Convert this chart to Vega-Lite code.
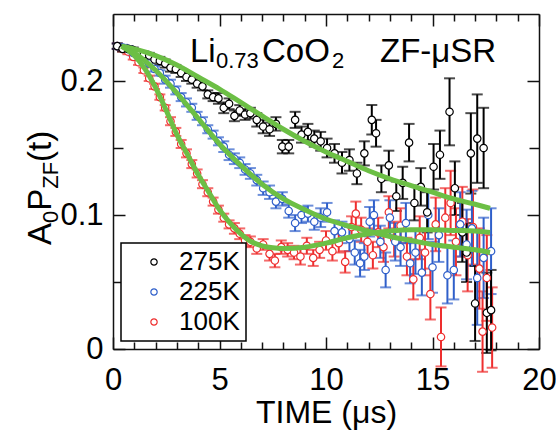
{
"$schema": "https://vega.github.io/schema/vega-lite/v6.json",
"width": 426, "height": 335,
"autosize": {"type": "none"},
"padding": {"left": 113, "top": 14, "right": 17, "bottom": 83},
"config": {
  "view": {"stroke": null},
  "font": "Liberation Sans",
  "axis": {"domainColor": "#111", "tickColor": "#111", "domainWidth": 1.5, "tickWidth": 1.5, "grid": false, "labelFont": "Liberation Sans", "titleFont": "Liberation Sans", "labelColor": "#000", "titleColor": "#000", "titleFontWeight": "normal"},
  "legend": {"title": null, "orient": "bottom-left", "offset": 8, "padding": 6, "strokeColor": "#000", "strokeWidth": 1.5, "fillColor": "white", "labelFontSize": 26, "labelFont": "Liberation Sans", "labelColor": "#000", "symbolSize": 40, "symbolStrokeWidth": 1.2, "symbolOffset": 14, "labelOffset": 12, "rowPadding": 4, "symbolType": "circle", "symbolFillColor": "white"}
},
"datasets": {
  "pts": [
    {"s":"100K","t":0.2,"y":0.226,"e":0.002},{"s":"100K","t":0.45,"y":0.224,"e":0.002},{"s":"100K","t":0.7,"y":0.222,"e":0.002},{"s":"100K","t":0.95,"y":0.218,"e":0.002},{"s":"100K","t":1.2,"y":0.214,"e":0.002},{"s":"100K","t":1.45,"y":0.208,"e":0.002},{"s":"100K","t":1.7,"y":0.202,"e":0.002},{"s":"100K","t":1.95,"y":0.196,"e":0.002},{"s":"100K","t":2.2,"y":0.188,"e":0.002},{"s":"100K","t":2.45,"y":0.18,"e":0.002},{"s":"100K","t":2.7,"y":0.17,"e":0.003},{"s":"100K","t":2.95,"y":0.162,"e":0.003},{"s":"100K","t":3.2,"y":0.153,"e":0.003},{"s":"100K","t":3.45,"y":0.146,"e":0.003},{"s":"100K","t":3.7,"y":0.138,"e":0.003},{"s":"100K","t":3.95,"y":0.131,"e":0.003},{"s":"100K","t":4.2,"y":0.123,"e":0.003},{"s":"100K","t":4.45,"y":0.117,"e":0.003},{"s":"100K","t":4.7,"y":0.11,"e":0.003},{"s":"100K","t":4.95,"y":0.104,"e":0.003},{"s":"100K","t":5.2,"y":0.098,"e":0.003},{"s":"100K","t":5.45,"y":0.093,"e":0.003},{"s":"100K","t":5.7,"y":0.09,"e":0.004},{"s":"100K","t":5.95,"y":0.086,"e":0.004},{"s":"100K","t":6.2,"y":0.081,"e":0.004},{"s":"100K","t":6.45,"y":0.08,"e":0.004},{"s":"100K","t":6.75,"y":0.075,"e":0.004},{"s":"100K","t":7.05,"y":0.078,"e":0.004},{"s":"100K","t":7.35,"y":0.071,"e":0.005},{"s":"100K","t":7.6,"y":0.066,"e":0.005},{"s":"100K","t":7.9,"y":0.076,"e":0.005},{"s":"100K","t":8.2,"y":0.074,"e":0.005},{"s":"100K","t":8.5,"y":0.072,"e":0.005},{"s":"100K","t":8.8,"y":0.069,"e":0.006},{"s":"100K","t":9.1,"y":0.077,"e":0.006},{"s":"100K","t":9.4,"y":0.068,"e":0.006},{"s":"100K","t":9.7,"y":0.074,"e":0.006},{"s":"100K","t":10.0,"y":0.081,"e":0.007},{"s":"100K","t":10.3,"y":0.073,"e":0.007},{"s":"100K","t":10.6,"y":0.079,"e":0.007},{"s":"100K","t":10.9,"y":0.065,"e":0.008},{"s":"100K","t":11.2,"y":0.091,"e":0.008},{"s":"100K","t":11.4,"y":0.101,"e":0.009},{"s":"100K","t":11.65,"y":0.089,"e":0.009},{"s":"100K","t":11.95,"y":0.08,"e":0.01},{"s":"100K","t":12.2,"y":0.07,"e":0.01},{"s":"100K","t":12.45,"y":0.087,"e":0.011},{"s":"100K","t":12.7,"y":0.076,"e":0.011},{"s":"100K","t":12.95,"y":0.102,"e":0.012},{"s":"100K","t":13.2,"y":0.082,"e":0.013},{"s":"100K","t":13.5,"y":0.092,"e":0.013},{"s":"100K","t":13.8,"y":0.069,"e":0.014},{"s":"100K","t":14.1,"y":0.052,"e":0.015},{"s":"100K","t":14.4,"y":0.083,"e":0.016},{"s":"100K","t":14.65,"y":0.072,"e":0.017},{"s":"100K","t":14.9,"y":0.041,"e":0.019},{"s":"100K","t":15.15,"y":0.093,"e":0.02},{"s":"100K","t":15.4,"y":0.009,"e":0.022},{"s":"100K","t":15.6,"y":0.098,"e":0.022},{"s":"100K","t":15.85,"y":0.109,"e":0.024},{"s":"100K","t":16.1,"y":0.08,"e":0.025},{"s":"100K","t":16.4,"y":0.095,"e":0.026},{"s":"100K","t":16.65,"y":0.07,"e":0.027},{"s":"100K","t":16.9,"y":0.091,"e":0.028},{"s":"100K","t":17.2,"y":0.06,"e":0.03},{"s":"100K","t":17.35,"y":0.013,"e":0.03},{"s":"100K","t":17.55,"y":0.053,"e":0.032},{"s":"100K","t":17.8,"y":0.016,"e":0.03},
    {"s":"225K","t":0.2,"y":0.226,"e":0.002},{"s":"225K","t":0.45,"y":0.225,"e":0.002},{"s":"225K","t":0.7,"y":0.224,"e":0.002},{"s":"225K","t":0.95,"y":0.221,"e":0.002},{"s":"225K","t":1.2,"y":0.219,"e":0.002},{"s":"225K","t":1.45,"y":0.216,"e":0.002},{"s":"225K","t":1.7,"y":0.213,"e":0.002},{"s":"225K","t":1.95,"y":0.209,"e":0.002},{"s":"225K","t":2.2,"y":0.206,"e":0.002},{"s":"225K","t":2.45,"y":0.201,"e":0.003},{"s":"225K","t":2.7,"y":0.198,"e":0.003},{"s":"225K","t":2.95,"y":0.193,"e":0.003},{"s":"225K","t":3.2,"y":0.188,"e":0.003},{"s":"225K","t":3.45,"y":0.184,"e":0.003},{"s":"225K","t":3.7,"y":0.18,"e":0.003},{"s":"225K","t":3.95,"y":0.174,"e":0.003},{"s":"225K","t":4.2,"y":0.17,"e":0.003},{"s":"225K","t":4.45,"y":0.164,"e":0.003},{"s":"225K","t":4.7,"y":0.16,"e":0.003},{"s":"225K","t":4.95,"y":0.155,"e":0.003},{"s":"225K","t":5.2,"y":0.151,"e":0.004},{"s":"225K","t":5.45,"y":0.145,"e":0.004},{"s":"225K","t":5.7,"y":0.142,"e":0.004},{"s":"225K","t":5.95,"y":0.139,"e":0.004},{"s":"225K","t":6.2,"y":0.134,"e":0.004},{"s":"225K","t":6.45,"y":0.131,"e":0.004},{"s":"225K","t":6.75,"y":0.126,"e":0.004},{"s":"225K","t":7.05,"y":0.12,"e":0.005},{"s":"225K","t":7.35,"y":0.117,"e":0.005},{"s":"225K","t":7.65,"y":0.11,"e":0.005},{"s":"225K","t":7.95,"y":0.112,"e":0.005},{"s":"225K","t":8.25,"y":0.103,"e":0.005},{"s":"225K","t":8.55,"y":0.094,"e":0.006},{"s":"225K","t":8.85,"y":0.1,"e":0.006},{"s":"225K","t":9.15,"y":0.101,"e":0.006},{"s":"225K","t":9.45,"y":0.095,"e":0.006},{"s":"225K","t":9.75,"y":0.098,"e":0.007},{"s":"225K","t":10.05,"y":0.102,"e":0.007},{"s":"225K","t":10.4,"y":0.088,"e":0.008},{"s":"225K","t":10.75,"y":0.087,"e":0.008},{"s":"225K","t":11.1,"y":0.082,"e":0.009},{"s":"225K","t":11.35,"y":0.072,"e":0.009},{"s":"225K","t":11.6,"y":0.064,"e":0.01},{"s":"225K","t":11.8,"y":0.069,"e":0.01},{"s":"225K","t":12.05,"y":0.095,"e":0.011},{"s":"225K","t":12.25,"y":0.1,"e":0.011},{"s":"225K","t":12.55,"y":0.08,"e":0.012},{"s":"225K","t":12.8,"y":0.059,"e":0.013},{"s":"225K","t":13.0,"y":0.098,"e":0.013},{"s":"225K","t":13.25,"y":0.08,"e":0.014},{"s":"225K","t":13.5,"y":0.076,"e":0.014},{"s":"225K","t":13.75,"y":0.094,"e":0.015},{"s":"225K","t":13.95,"y":0.064,"e":0.015},{"s":"225K","t":14.2,"y":0.072,"e":0.016},{"s":"225K","t":14.5,"y":0.057,"e":0.017},{"s":"225K","t":14.8,"y":0.1,"e":0.018},{"s":"225K","t":15.0,"y":0.061,"e":0.019},{"s":"225K","t":15.3,"y":0.085,"e":0.02},{"s":"225K","t":15.7,"y":0.055,"e":0.021},{"s":"225K","t":16.0,"y":0.059,"e":0.022},{"s":"225K","t":16.3,"y":0.093,"e":0.024},{"s":"225K","t":16.6,"y":0.078,"e":0.026},{"s":"225K","t":16.85,"y":0.09,"e":0.028},{"s":"225K","t":17.1,"y":0.053,"e":0.035},{"s":"225K","t":17.4,"y":0.068,"e":0.03},{"s":"225K","t":17.75,"y":0.073,"e":0.032},
    {"s":"275K","t":0.2,"y":0.226,"e":0.002},{"s":"275K","t":0.45,"y":0.224,"e":0.002},{"s":"275K","t":0.7,"y":0.224,"e":0.002},{"s":"275K","t":0.95,"y":0.223,"e":0.002},{"s":"275K","t":1.2,"y":0.221,"e":0.002},{"s":"275K","t":1.45,"y":0.22,"e":0.002},{"s":"275K","t":1.7,"y":0.219,"e":0.002},{"s":"275K","t":1.95,"y":0.216,"e":0.002},{"s":"275K","t":2.2,"y":0.215,"e":0.003},{"s":"275K","t":2.45,"y":0.213,"e":0.003},{"s":"275K","t":2.7,"y":0.21,"e":0.003},{"s":"275K","t":2.95,"y":0.209,"e":0.003},{"s":"275K","t":3.2,"y":0.206,"e":0.003},{"s":"275K","t":3.45,"y":0.203,"e":0.003},{"s":"275K","t":3.7,"y":0.201,"e":0.003},{"s":"275K","t":3.95,"y":0.198,"e":0.003},{"s":"275K","t":4.2,"y":0.196,"e":0.003},{"s":"275K","t":4.45,"y":0.19,"e":0.003},{"s":"275K","t":4.7,"y":0.188,"e":0.003},{"s":"275K","t":4.95,"y":0.187,"e":0.004},{"s":"275K","t":5.2,"y":0.18,"e":0.004},{"s":"275K","t":5.45,"y":0.183,"e":0.004},{"s":"275K","t":5.7,"y":0.174,"e":0.004},{"s":"275K","t":5.95,"y":0.178,"e":0.004},{"s":"275K","t":6.2,"y":0.175,"e":0.004},{"s":"275K","t":6.45,"y":0.176,"e":0.004},{"s":"275K","t":6.75,"y":0.171,"e":0.005},{"s":"275K","t":7.05,"y":0.166,"e":0.005},{"s":"275K","t":7.35,"y":0.164,"e":0.005},{"s":"275K","t":7.65,"y":0.168,"e":0.005},{"s":"275K","t":7.95,"y":0.151,"e":0.005},{"s":"275K","t":8.25,"y":0.151,"e":0.005},{"s":"275K","t":8.55,"y":0.171,"e":0.006},{"s":"275K","t":8.85,"y":0.16,"e":0.006},{"s":"275K","t":9.15,"y":0.162,"e":0.006},{"s":"275K","t":9.45,"y":0.157,"e":0.006},{"s":"275K","t":9.75,"y":0.155,"e":0.007},{"s":"275K","t":10.05,"y":0.15,"e":0.007},{"s":"275K","t":10.4,"y":0.146,"e":0.007},{"s":"275K","t":10.75,"y":0.139,"e":0.008},{"s":"275K","t":11.1,"y":0.141,"e":0.008},{"s":"275K","t":11.45,"y":0.131,"e":0.008},{"s":"275K","t":11.8,"y":0.146,"e":0.009},{"s":"275K","t":12.15,"y":0.171,"e":0.011},{"s":"275K","t":12.35,"y":0.161,"e":0.01},{"s":"275K","t":12.6,"y":0.127,"e":0.01},{"s":"275K","t":12.95,"y":0.137,"e":0.011},{"s":"275K","t":13.3,"y":0.114,"e":0.011},{"s":"275K","t":13.6,"y":0.124,"e":0.012},{"s":"275K","t":13.9,"y":0.154,"e":0.014},{"s":"275K","t":14.15,"y":0.109,"e":0.013},{"s":"275K","t":14.45,"y":0.121,"e":0.014},{"s":"275K","t":14.75,"y":0.102,"e":0.015},{"s":"275K","t":15.05,"y":0.136,"e":0.017},{"s":"275K","t":15.35,"y":0.145,"e":0.018},{"s":"275K","t":15.8,"y":0.177,"e":0.025},{"s":"275K","t":16.05,"y":0.12,"e":0.02},{"s":"275K","t":16.4,"y":0.087,"e":0.022},{"s":"275K","t":16.6,"y":0.072,"e":0.022},{"s":"275K","t":16.8,"y":0.146,"e":0.03},{"s":"275K","t":17.0,"y":0.034,"e":0.028},{"s":"275K","t":17.1,"y":0.157,"e":0.033},{"s":"275K","t":17.4,"y":0.15,"e":0.03},{"s":"275K","t":17.55,"y":0.027,"e":0.03},{"s":"275K","t":17.75,"y":0.029,"e":0.03}
  ],
  "fit": [
    {"s":"275K","t":0.4,"y":0.226},{"s":"275K","t":1,"y":0.224},{"s":"275K","t":2,"y":0.219},{"s":"275K","t":3,"y":0.212},{"s":"275K","t":4,"y":0.203},{"s":"275K","t":5,"y":0.194},{"s":"275K","t":6,"y":0.184},{"s":"275K","t":7,"y":0.174},{"s":"275K","t":8,"y":0.164},{"s":"275K","t":9,"y":0.155},{"s":"275K","t":10,"y":0.147},{"s":"275K","t":11,"y":0.14},{"s":"275K","t":12,"y":0.133},{"s":"275K","t":13,"y":0.127},{"s":"275K","t":14,"y":0.122},{"s":"275K","t":15,"y":0.117},{"s":"275K","t":16,"y":0.112},{"s":"275K","t":17,"y":0.108},{"s":"275K","t":17.7,"y":0.105},
    {"s":"225K","t":0.4,"y":0.226},{"s":"225K","t":1,"y":0.221},{"s":"225K","t":2,"y":0.208},{"s":"225K","t":3,"y":0.191},{"s":"225K","t":4,"y":0.172},{"s":"225K","t":5,"y":0.153},{"s":"225K","t":6,"y":0.137},{"s":"225K","t":7,"y":0.123},{"s":"225K","t":8,"y":0.112},{"s":"225K","t":9,"y":0.104},{"s":"225K","t":10,"y":0.097},{"s":"225K","t":11,"y":0.092},{"s":"225K","t":12,"y":0.088},{"s":"225K","t":13,"y":0.084},{"s":"225K","t":14,"y":0.081},{"s":"225K","t":15,"y":0.078},{"s":"225K","t":16,"y":0.076},{"s":"225K","t":17,"y":0.074},{"s":"225K","t":17.7,"y":0.072},
    {"s":"100K","t":0.4,"y":0.226},{"s":"100K","t":1,"y":0.219},{"s":"100K","t":1.5,"y":0.209},{"s":"100K","t":2,"y":0.195},{"s":"100K","t":2.5,"y":0.178},{"s":"100K","t":3,"y":0.16},{"s":"100K","t":3.5,"y":0.145},{"s":"100K","t":4,"y":0.13},{"s":"100K","t":4.5,"y":0.117},{"s":"100K","t":5,"y":0.104},{"s":"100K","t":5.5,"y":0.094},{"s":"100K","t":6,"y":0.086},{"s":"100K","t":6.5,"y":0.08},{"s":"100K","t":7,"y":0.077},{"s":"100K","t":7.5,"y":0.0755},{"s":"100K","t":8,"y":0.075},{"s":"100K","t":9,"y":0.076},{"s":"100K","t":10,"y":0.079},{"s":"100K","t":11,"y":0.083},{"s":"100K","t":12,"y":0.086},{"s":"100K","t":13,"y":0.088},{"s":"100K","t":14,"y":0.089},{"s":"100K","t":15,"y":0.089},{"s":"100K","t":16,"y":0.0885},{"s":"100K","t":17,"y":0.088},{"s":"100K","t":17.7,"y":0.087}
  ],
  "one": [{}]
},
"layer": [
  {"data": {"name": "fit"}, "mark": {"type": "point", "opacity": 0},
   "encoding": {
     "x": {"field": "t", "type": "quantitative", "scale": {"domain": [0, 20], "nice": false, "zero": false},
           "axis": {"orient": "bottom", "values": [0, 5, 10, 15, 20], "tickSize": -12, "labelPadding": 28, "labelFontSize": 31, "labelFlush": false, "labelOverlap": false, "title": "TIME (μs)", "titleFontSize": 32, "titlePadding": 2}},
     "y": {"field": "y", "type": "quantitative", "scale": {"domain": [0, 0.25], "nice": false, "zero": false},
           "axis": {"orient": "left", "values": [0, 0.1, 0.2], "format": "~g", "tickSize": -12, "labelPadding": 22, "labelFontSize": 31, "labelFlush": false, "labelOverlap": false, "title": null}}}},
  {"data": {"name": "fit"}, "mark": {"type": "point", "opacity": 0},
   "encoding": {
     "x": {"field": "t", "type": "quantitative", "axis": {"orient": "bottom", "values": [1,2,3,4,6,7,8,9,11,12,13,14,16,17,18,19], "tickSize": -7, "labels": false, "domain": false, "title": null}},
     "y": {"field": "y", "type": "quantitative", "axis": {"orient": "left", "values": [0.05, 0.15], "tickSize": -10, "labels": false, "domain": false, "title": null}}}},
  {"data": {"name": "fit"}, "mark": {"type": "point", "opacity": 0},
   "encoding": {
     "x": {"field": "t", "type": "quantitative", "axis": {"orient": "top", "values": [0, 5, 10, 15, 20], "tickSize": -12, "labels": false, "title": null}},
     "y": {"field": "y", "type": "quantitative", "axis": {"orient": "right", "values": [0, 0.1, 0.2], "tickSize": -12, "labels": false, "title": null}}}},
  {"data": {"name": "fit"}, "mark": {"type": "point", "opacity": 0},
   "encoding": {
     "x": {"field": "t", "type": "quantitative", "axis": {"orient": "top", "values": [1,2,3,4,6,7,8,9,11,12,13,14,16,17,18,19], "tickSize": -7, "labels": false, "domain": false, "title": null}},
     "y": {"field": "y", "type": "quantitative", "axis": {"orient": "right", "values": [0.05, 0.15], "tickSize": -10, "labels": false, "domain": false, "title": null}}}},
  {"data": {"name": "pts"}, "mark": {"type": "errorbar", "ticks": true, "size": 11, "thickness": 2},
   "encoding": {
     "x": {"field": "t", "type": "quantitative", "axis": null},
     "y": {"field": "y", "type": "quantitative", "axis": null},
     "yError": {"field": "e"},
     "color": {"field": "s", "type": "nominal", "scale": {"domain": ["275K", "225K", "100K"], "range": ["#000000", "#2f5fca", "#ee2e2e"]}, "legend": null}}},
  {"data": {"name": "pts"}, "mark": {"type": "point", "shape": "circle", "size": 55, "strokeWidth": 1.2, "fill": "white", "fillOpacity": 1, "opacity": 1},
   "encoding": {
     "x": {"field": "t", "type": "quantitative", "axis": null},
     "y": {"field": "y", "type": "quantitative", "axis": null},
     "color": {"field": "s", "type": "nominal", "scale": {"domain": ["275K", "225K", "100K"], "range": ["#000000", "#2f5fca", "#ee2e2e"]}, "legend": {"title": null}}}},
  {"data": {"name": "fit"}, "mark": {"type": "line", "color": "#6cbf45", "strokeWidth": 5, "interpolate": "monotone"},
   "encoding": {
     "x": {"field": "t", "type": "quantitative", "axis": null},
     "y": {"field": "y", "type": "quantitative", "axis": null},
     "detail": {"field": "s"}}},
  {"data": {"name": "one"}, "mark": {"type": "text", "text": "Li", "fontSize": 33, "align": "left", "baseline": "alphabetic", "color": "#000"},
   "encoding": {"x": {"datum": 3.615, "type": "quantitative", "axis": null}, "y": {"datum": 0.2142, "type": "quantitative", "axis": null}}},
  {"data": {"name": "one"}, "mark": {"type": "text", "text": "0.73", "fontSize": 22, "align": "left", "baseline": "alphabetic", "color": "#000"},
   "encoding": {"x": {"datum": 4.836, "type": "quantitative", "axis": null}, "y": {"datum": 0.2097, "type": "quantitative", "axis": null}}},
  {"data": {"name": "one"}, "mark": {"type": "text", "text": "CoO", "fontSize": 33, "align": "left", "baseline": "alphabetic", "color": "#000"},
   "encoding": {"x": {"datum": 6.995, "type": "quantitative", "axis": null}, "y": {"datum": 0.2142, "type": "quantitative", "axis": null}}},
  {"data": {"name": "one"}, "mark": {"type": "text", "text": "2", "fontSize": 22, "align": "left", "baseline": "alphabetic", "color": "#000"},
   "encoding": {"x": {"datum": 10.28, "type": "quantitative", "axis": null}, "y": {"datum": 0.2097, "type": "quantitative", "axis": null}}},
  {"data": {"name": "one"}, "mark": {"type": "text", "text": "ZF-μSR", "fontSize": 33, "align": "left", "baseline": "alphabetic", "color": "#000"},
   "encoding": {"x": {"datum": 12.535, "type": "quantitative", "axis": null}, "y": {"datum": 0.2142, "type": "quantitative", "axis": null}}},
  {"data": {"name": "one"}, "mark": {"type": "text", "text": "A", "fontSize": 33, "align": "left", "baseline": "alphabetic", "angle": 270, "color": "#000"},
   "encoding": {"x": {"datum": -2.911, "type": "quantitative", "axis": null}, "y": {"datum": 0.0776, "type": "quantitative", "axis": null}}},
  {"data": {"name": "one"}, "mark": {"type": "text", "text": "0", "fontSize": 22, "align": "left", "baseline": "alphabetic", "angle": 270, "color": "#000"},
   "encoding": {"x": {"datum": -2.582, "type": "quantitative", "axis": null}, "y": {"datum": 0.094, "type": "quantitative", "axis": null}}},
  {"data": {"name": "one"}, "mark": {"type": "text", "text": "P", "fontSize": 33, "align": "left", "baseline": "alphabetic", "angle": 270, "color": "#000"},
   "encoding": {"x": {"datum": -2.911, "type": "quantitative", "axis": null}, "y": {"datum": 0.1031, "type": "quantitative", "axis": null}}},
  {"data": {"name": "one"}, "mark": {"type": "text", "text": "ZF", "fontSize": 22, "align": "left", "baseline": "alphabetic", "angle": 270, "color": "#000"},
   "encoding": {"x": {"datum": -2.582, "type": "quantitative", "axis": null}, "y": {"datum": 0.1196, "type": "quantitative", "axis": null}}},
  {"data": {"name": "one"}, "mark": {"type": "text", "text": "(t)", "fontSize": 33, "align": "left", "baseline": "alphabetic", "angle": 270, "color": "#000"},
   "encoding": {"x": {"datum": -2.911, "type": "quantitative", "axis": null}, "y": {"datum": 0.1396, "type": "quantitative", "axis": null}}}
],
"resolve": {"axis": {"x": "independent", "y": "independent"}, "scale": {"color": "independent"}}
}
